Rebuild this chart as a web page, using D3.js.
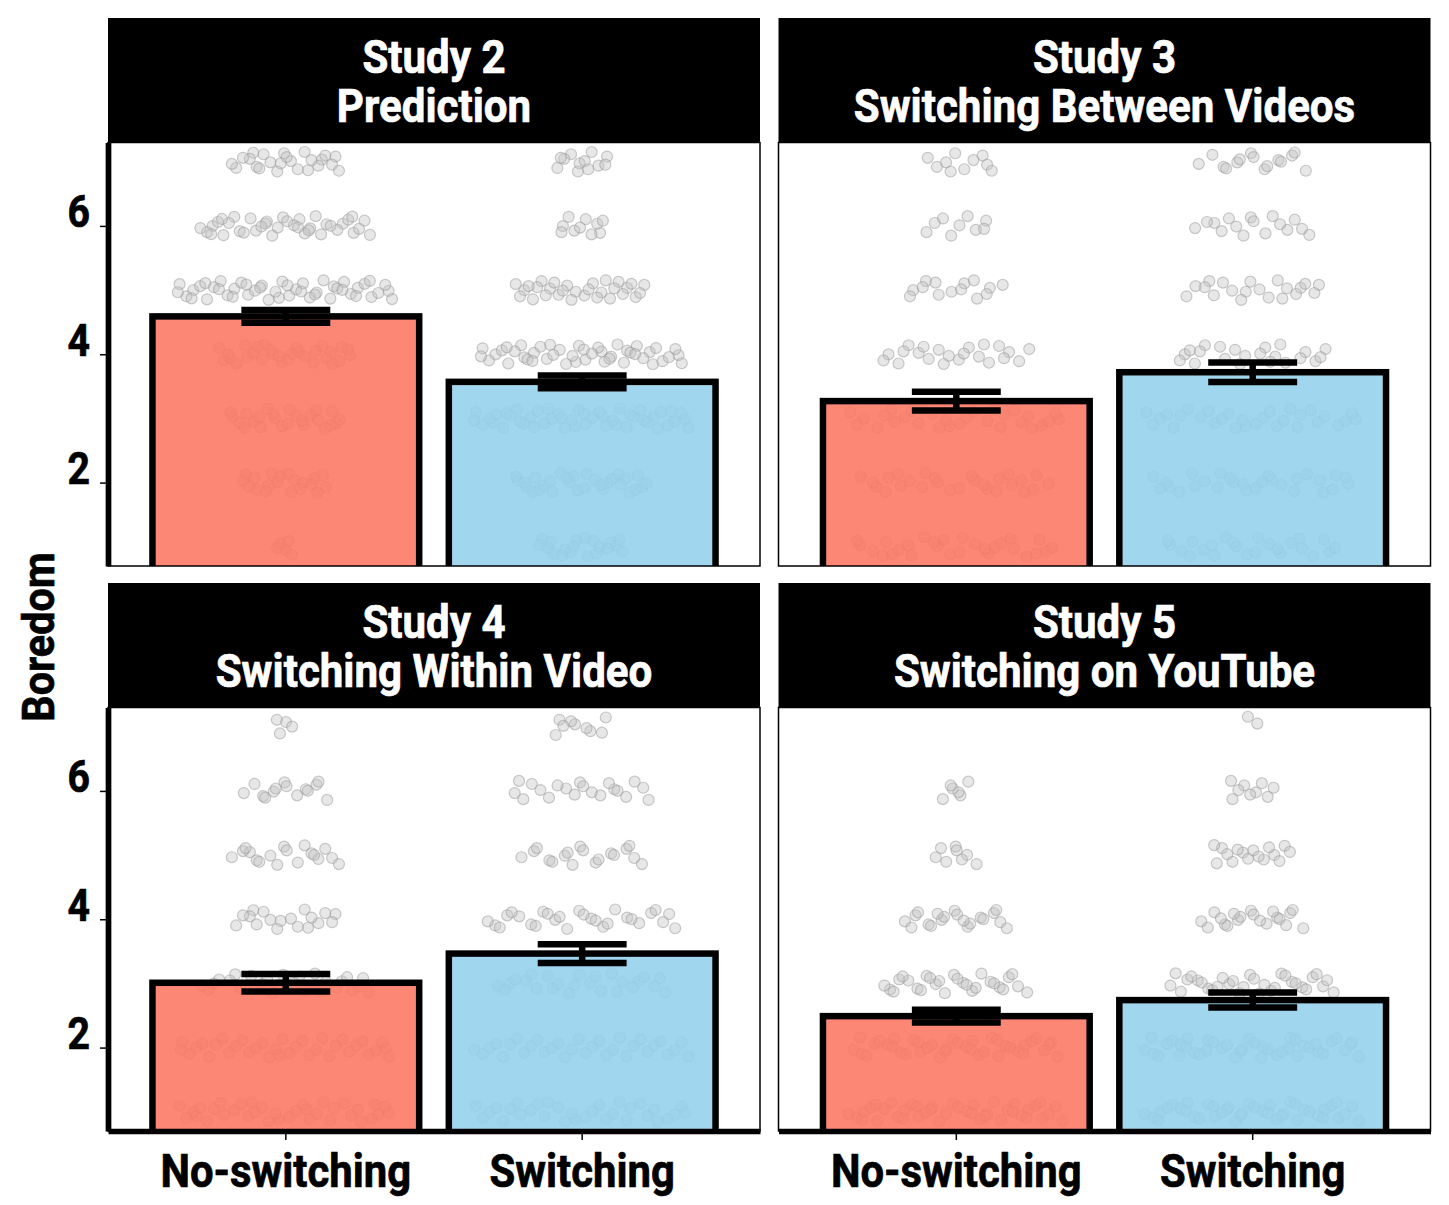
<!DOCTYPE html>
<html>
<head>
<meta charset="utf-8">
<script src="https://cdn.jsdelivr.net/npm/d3@7"></script>
<style>
  body { margin: 0; background: #fff; }
  text { font-family: Roboto, "DejaVu Sans", sans-serif; font-weight: 700; }
</style>
</head>
<body>
<script>
// ---------------- data ----------------
var groups = ["No-switching", "Switching"];
var studyLines1 = ["Study 2", "Study 3", "Study 4", "Study 5"];
var studyLines2 = ["Prediction", "Switching Between Videos", "Switching Within Video", "Switching on YouTube"];

var meanNoSwitch = [4.59, 3.27, 3.01, 2.49];
var meanSwitch   = [3.57, 3.72, 3.465, 2.74];
var seNoSwitch   = [0.100, 0.147, 0.135, 0.100];
var seSwitch     = [0.100, 0.153, 0.145, 0.117];

// individual responses, counted per scale point (1..7), one row per study
var levels = [1, 2, 3, 4, 5, 6, 7];
var countsNoSwitch = [
  [5, 20, 25, 30, 48, 38, 24],
  [28, 27, 30, 22, 14, 9, 10],
  [36, 35, 28, 18, 18, 14, 4],
  [42, 40, 28, 20, 8, 6, 0]
];
var countsSwitch = [
  [20, 30, 48, 45, 30, 10, 12],
  [24, 28, 30, 22, 20, 16, 15],
  [32, 32, 25, 28, 18, 20, 9],
  [42, 42, 32, 20, 16, 9, 2]
];
var yTicks = [2, 4, 6];

// ---------------- layout ----------------
var width = 1449, height = 1205;
var panelW = 652, panelH = 423.5, stripH = 124.5;
var colX = [108, 778.5];
var rowY = [142.5, 707.5];
var squeeze = 0.89;           // condensed look of the bold labels
var colorNo = "#FD7662", colorSw = "#93D0EC";

var svg = d3.select("body").append("svg")
    .attr("width", width)
    .attr("height", height);

var x = d3.scaleBand()
    .domain(groups)
    .range([0, panelW])
    .paddingInner(0.1)
    .paddingOuter(0.15);

var y = d3.scaleLinear()
    .domain([0.7, 7.3])
    .range([panelH, 0]);

function condText(sel, tx, ty, str, size, fill, sq) {
  sel.append("g")
      .attr("transform", "translate(" + tx + "," + ty + ") scale(" + sq + ",1)")
    .append("text")
      .attr("text-anchor", "middle")
      .style("font-size", size + "px")
      .style("fill", fill)
      .style("stroke", fill)
      .style("stroke-width", 0.7)
      .text(str);
}

// quasi-random spread (van der Corput), like a beeswarm/quasirandom layout
function vdc(i, b) {
  var r = 0, f = 1 / b;
  while (i > 0) { r += f * (i % b); i = Math.floor(i / b); f /= b; }
  return r;
}

function pointsFor(p, gi, counts) {
  var maxN = d3.max(counts), pts = [];
  counts.forEach(function(n, li) {
    var hw = 0.37 * n / maxN;
    var start = li * 7 + gi * 3 + p * 11 + 1;
    for (var i = 0; i < n; i++) {
      pts.push({
        g: groups[gi],
        v: levels[li] + (vdc(start + i, 3) - 0.5) * 0.32,
        dx: (vdc(start + i, 2) * 2 - 1) * hw
      });
    }
  });
  return pts;
}

var defs = svg.append("defs");

for (var p = 0; p < 4; p++) {
  var col = p % 2, row = Math.floor(p / 2);
  var px = colX[col], py = rowY[row];

  // strip
  var strip = svg.append("g").attr("transform", "translate(" + px + "," + (py - stripH) + ")");
  strip.append("rect")
      .attr("width", panelW)
      .attr("height", stripH)
      .attr("fill", "#000");
  condText(strip, panelW / 2, 54.5, studyLines1[p], 45.5, "#fff", 0.925);
  condText(strip, panelW / 2, 103.5, studyLines2[p], 45.5, "#fff", 0.925);

  var g = svg.append("g").attr("transform", "translate(" + px + "," + py + ")");

  defs.append("clipPath").attr("id", "clip" + p)
    .append("rect").attr("width", panelW).attr("height", panelH);

  var inner = g.append("g").attr("clip-path", "url(#clip" + p + ")");

  // points behind the bars
  var pts = pointsFor(p, 0, countsNoSwitch[p]).concat(pointsFor(p, 1, countsSwitch[p]));
  inner.selectAll("circle").data(pts).enter().append("circle")
      .attr("cx", function(d) { return x(d.g) + x.bandwidth() / 2 + d.dx * x.step(); })
      .attr("cy", function(d) { return y(d.v); })
      .attr("r", 5.5)
      .attr("fill", "#c4c4c4")
      .attr("fill-opacity", 0.4)
      .attr("stroke", "#9a9a9a")
      .attr("stroke-opacity", 0.5)
      .attr("stroke-width", 1.2);

  var bars = [
    {g: groups[0], m: meanNoSwitch[p], se: seNoSwitch[p], c: colorNo},
    {g: groups[1], m: meanSwitch[p], se: seSwitch[p], c: colorSw}
  ];

  inner.selectAll("rect.bar").data(bars).enter().append("rect")
      .attr("class", "bar")
      .attr("x", function(d) { return x(d.g); })
      .attr("width", x.bandwidth())
      .attr("y", function(d) { return y(d.m); })
      .attr("height", function(d) { return y(0) - y(d.m); })
      .attr("fill", function(d) { return d.c; })
      .attr("fill-opacity", 0.88)
      .attr("stroke", "#000")
      .attr("stroke-width", 6.5);

  // error bars
  var eb = g.selectAll("g.eb").data(bars).enter().append("g").attr("class", "eb")
      .attr("stroke", "#000")
      .attr("stroke-width", 6.5);
  var half = 0.15 * x.step();
  eb.append("line")
      .attr("x1", function(d) { return x(d.g) + x.bandwidth() / 2 - half; })
      .attr("x2", function(d) { return x(d.g) + x.bandwidth() / 2 + half; })
      .attr("y1", function(d) { return y(d.m + d.se); })
      .attr("y2", function(d) { return y(d.m + d.se); });
  eb.append("line")
      .attr("x1", function(d) { return x(d.g) + x.bandwidth() / 2 - half; })
      .attr("x2", function(d) { return x(d.g) + x.bandwidth() / 2 + half; })
      .attr("y1", function(d) { return y(d.m - d.se); })
      .attr("y2", function(d) { return y(d.m - d.se); });
  eb.append("line")
      .attr("x1", function(d) { return x(d.g) + x.bandwidth() / 2; })
      .attr("x2", function(d) { return x(d.g) + x.bandwidth() / 2; })
      .attr("y1", function(d) { return y(d.m + d.se); })
      .attr("y2", function(d) { return y(d.m - d.se); });

  // panel border
  g.append("rect")
      .attr("width", panelW)
      .attr("height", panelH)
      .attr("fill", "none")
      .attr("stroke", "#000")
      .attr("stroke-width", 1.5);

  if (col === 0) {
    var ya = g.append("g")
        .call(d3.axisLeft(y).tickValues(yTicks).tickSize(8).tickSizeOuter(0).tickFormat(d3.format("d")));
    ya.select(".domain").attr("stroke-width", 5.7);
    ya.selectAll(".tick line").attr("stroke-width", 1.5);
    ya.selectAll(".tick text")
        .attr("x", -18 / squeeze)
        .attr("dy", 0)
        .attr("y", 1)
        .attr("transform", "scale(" + squeeze + ",1)")
        .attr("fill", "#000")
        .attr("stroke", "#000")
        .attr("stroke-width", 0.7)
        .style("font-size", "44px")
        .style("font-family", "Roboto, sans-serif")
        .style("font-weight", 700);
  }
  if (row === 1) {
    var xa = g.append("g")
        .attr("transform", "translate(0," + panelH + ")")
        .call(d3.axisBottom(x).tickSize(9).tickSizeOuter(0));
    xa.select(".domain").attr("stroke-width", 5.7);
    xa.selectAll(".tick line").attr("stroke-width", 1.5);
    xa.selectAll(".tick text")
        .attr("y", 56)
        .attr("dy", 0)
        .attr("transform", "scale(" + squeeze + ",1)")
        .attr("fill", "#000")
        .attr("stroke", "#000")
        .attr("stroke-width", 0.7)
        .style("font-size", "47px")
        .style("font-family", "Roboto, sans-serif")
        .style("font-weight", 700);
  }
}

// y axis title
svg.append("g")
    .attr("transform", "translate(38,637) rotate(-90) scale(0.92,1)")
  .append("text")
    .attr("text-anchor", "middle")
    .attr("y", 16)
    .style("font-size", "45px")
    .style("fill", "#000")
    .style("stroke", "#000")
    .style("stroke-width", 0.7)
    .text("Boredom");
</script>
</body>
</html>
